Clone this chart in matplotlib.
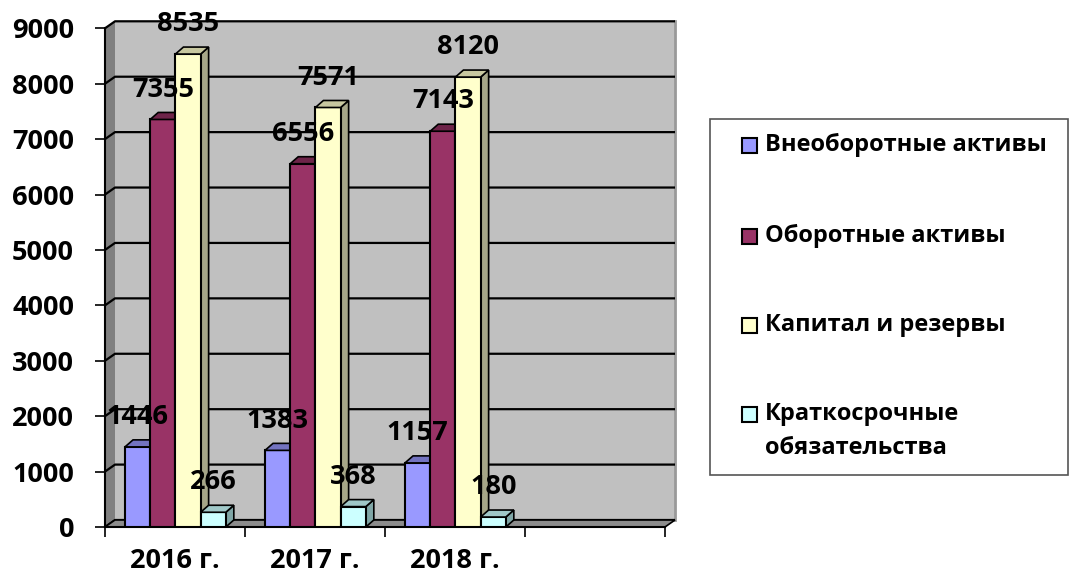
import matplotlib
matplotlib.use("Agg")
from matplotlib import pyplot as plt
from matplotlib.patches import Polygon, Rectangle

plt.rcParams['font.family'] = ['Open Sans', 'DejaVu Sans']
plt.rcParams['font.weight'] = 'bold'

# data
years = ["2016 г.", "2017 г.", "2018 г."]
series = ["Внеоборотные активы", "Оборотные активы", "Капитал и резервы",
          "Краткосрочные\nобязательства"]
vneob = [1446, 1383, 1157]
obor = [7355, 6556, 7143]
kapital = [8535, 7571, 8120]
kratk = [266, 368, 180]

front = ["#9999ff", "#993366", "#ffffcc", "#ccffff"]
top_c = ["#7373c0", "#6e2449", "#c8c8a0", "#a0c8c8"]
side_c = ["#6b6bb3", "#5c1e3d", "#a6a688", "#80a6a6"]

W, H = 1072, 578
fig = plt.figure(figsize=(W / 100, H / 100), dpi=100)
ax = fig.add_axes([105 / W, 51 / H, 560 / W, (527 - 28.3) / H])
ax.set_xlim(0, 4)
ax.set_ylim(0, 9000)
ax.patch.set_alpha(0)

# depth of walls and bars (data units)
wdx, wdy = 10 / 140, 7 * 9000 / 498.7
bdx, bdy = 8 / 140, 7 * 9000 / 498.7

# walls
ax.add_patch(Polygon([(wdx, wdy), (4 + wdx, wdy), (4 + wdx, 9000 + wdy), (wdx, 9000 + wdy)],
                     closed=True, fc="#c0c0c0", ec="none", zorder=0.5, clip_on=False))
ax.add_patch(Polygon([(0, 0), (wdx, wdy), (wdx, 9000 + wdy), (0, 9000)],
                     closed=True, fc="#808080", ec="none", zorder=0.5, clip_on=False))
ax.plot([4 + wdx, 4 + wdx], [wdy, 9000 + wdy], color="#999999", lw=2, zorder=0.55, clip_on=False)
for g in range(0, 9001, 1000):
    ax.plot([0, wdx, 4 + wdx], [g, g + wdy, g + wdy], color="black", lw=1.6,
            zorder=0.6, clip_on=False, solid_capstyle="butt")
ax.add_patch(Polygon([(0, 0), (4, 0), (4 + wdx, wdy), (wdx, wdy)],
                     closed=True, fc="#8c8c8c", ec="black", lw=1.2, zorder=0.7, clip_on=False))

# bars
bw = 0.18
start = 0.143
values = [vneob, obor, kapital, kratk]
for c in range(len(years)):
    for i, vals in enumerate(values):
        x0 = c + start + i * bw
        v = vals[c]
        z = 2 + c * 10 + i
        ax.bar(x0, v, width=bw, align="edge", color=front[i], edgecolor="black",
               lw=1.5, zorder=z)
        ax.add_patch(Polygon([(x0, v), (x0 + bw, v), (x0 + bw + bdx, v + bdy), (x0 + bdx, v + bdy)],
                             closed=True, fc=top_c[i], ec="black", lw=1.2, zorder=z))
        ax.add_patch(Polygon([(x0 + bw, 0), (x0 + bw + bdx, bdy), (x0 + bw + bdx, v + bdy), (x0 + bw, v)],
                             closed=True, fc=side_c[i], ec="black", lw=1.2, zorder=z - 0.5))
        ax.annotate(str(v), (x0 + bw / 2, v), xytext=(0, 21.5), textcoords="offset points",
                    ha="center", va="center", fontsize=19.5, fontweight="bold", zorder=60)

# axes
for s in ["top", "right"]:
    ax.spines[s].set_visible(False)
ax.spines["left"].set_linewidth(1.5)
ax.spines["bottom"].set_linewidth(1.5)
ax.spines["left"].set_zorder(0.8)
ax.spines["bottom"].set_zorder(0.8)
ax.set_yticks(range(0, 9001, 1000))
ax.tick_params(axis="y", direction="out", length=7.2, width=1.2, pad=15, labelsize=19.5)
ax.set_xticks([0, 1, 2, 3, 4])
ax.set_xticklabels([])
ax.tick_params(axis="x", which="major", direction="out", length=7.2, width=1.2)
ax.set_xticks([0.5, 1.5, 2.5], minor=True)
ax.set_xticklabels(years, minor=True)
ax.tick_params(axis="x", which="minor", length=0, pad=15, labelsize=19.5)
for t in ax.get_yticklabels() + ax.get_xticklabels(minor=True):
    t.set_fontweight("bold")


def px(x, y):
    return x / W, 1 - y / H


# legend
lx, ly = px(710, 475)
fig.patches.append(Rectangle((lx, ly), 358 / W, 356 / H, transform=fig.transFigure,
                             fc="white", ec="#555555", lw=1.2))
rows = [145, 236, 325, 414]
for i, (name, ry) in enumerate(zip(series, rows)):
    mx, my = px(742, ry + 8)
    fig.patches.append(Rectangle((mx, my), 15 / W, 15 / H, transform=fig.transFigure,
                                 fc=front[i], ec="black", lw=1.5))
    tx, ty = px(765, ry - 12)
    fig.text(tx, ty, name, ha="left", va="top", fontsize=17, fontweight="bold",
             linespacing=1.55)

fig.savefig("out.png", dpi=100)
